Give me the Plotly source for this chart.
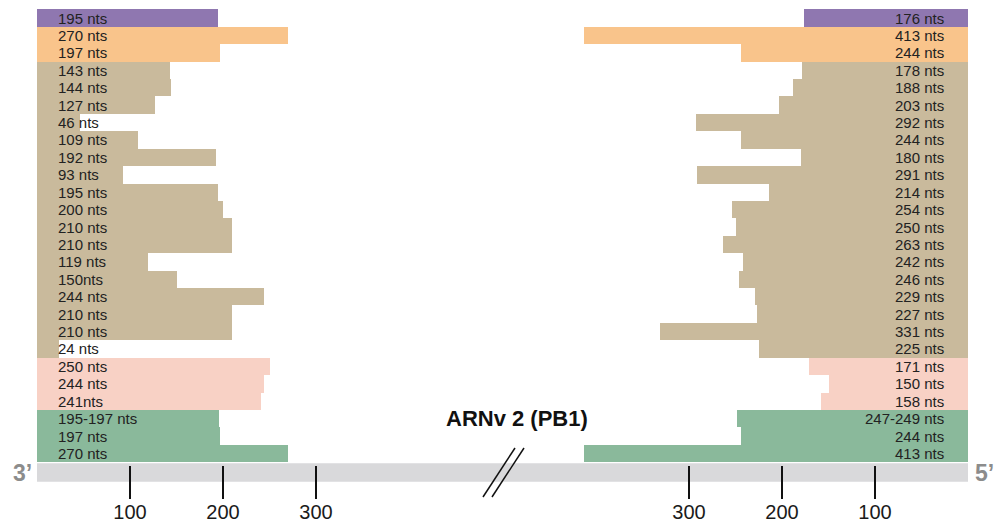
import plotly.graph_objects as go

# Segment lengths (nts) read at the 3' end (left) and the 5' end (right), top row first
left_labels = ["195 nts", "270 nts", "197 nts", "143 nts", "144 nts", "127 nts", "46 nts",
               "109 nts", "192 nts", "93 nts", "195 nts", "200 nts", "210 nts", "210 nts",
               "119 nts", "150nts", "244 nts", "210 nts", "210 nts", "24 nts", "250 nts",
               "244 nts", "241nts", "195-197 nts", "197 nts", "270 nts"]
left_lengths = [195, 270, 197, 143, 144, 127, 46, 109, 192, 93, 195, 200, 210, 210,
                119, 150, 244, 210, 210, 24, 250, 244, 241, 196, 197, 270]

right_labels = ["176 nts", "413 nts", "244 nts", "178 nts", "188 nts", "203 nts", "292 nts",
                "244 nts", "180 nts", "291 nts", "214 nts", "254 nts", "250 nts", "263 nts",
                "242 nts", "246 nts", "229 nts", "227 nts", "331 nts", "225 nts", "171 nts",
                "150 nts", "158 nts", "247-249 nts", "244 nts", "413 nts"]
right_lengths = [176, 413, 244, 178, 188, 203, 292, 244, 180, 291, 214, 254, 250, 263,
                 242, 246, 229, 227, 331, 225, 171, 150, 158, 248, 244, 413]

groups = ["purple"] + ["orange"] * 2 + ["tan"] * 17 + ["pink"] * 3 + ["green"] * 3
group_colors = {"purple": "#8f77b0", "orange": "#f9c48b", "tan": "#c9ba9c",
                "pink": "#f8d1c5", "green": "#8ab99b"}

tick_values = [100, 200, 300]
title_text = "ARNv 2 (PB1)"

# Page geometry (pixels)
W, H = 995, 525
x_start, x_split, x_end = 37, 503, 968
px_per_nt = 0.93
row_top, row_h = 9.3, 17.42
axis_y = 465
bar_top, bar_bot = 463.3, 481.7

rows = list(range(len(groups)))
colors = [group_colors[g] for g in groups]
FONT = "Liberation Sans, Arial, sans-serif"

fig = go.Figure()
fig.add_trace(go.Bar(y=rows, x=left_lengths, base=0, orientation="h",
                     marker=dict(color=colors, line=dict(width=0)), width=1.0,
                     xaxis="x", yaxis="y", hoverinfo="skip"))
fig.add_trace(go.Bar(y=rows, x=right_lengths, base=0, orientation="h",
                     marker=dict(color=colors, line=dict(width=0)), width=1.0,
                     xaxis="x2", yaxis="y", hoverinfo="skip"))

annotations = []
for i, (lt, rt) in enumerate(zip(left_labels, right_labels)):
    annotations.append(dict(text=lt, x=56 / W, xref="paper", xanchor="left",
                            y=i, yref="y", yanchor="middle", showarrow=False,
                            font=dict(family=FONT, size=15, color="#222222")))
    annotations.append(dict(text=rt, x=946 / W, xref="paper", xanchor="right",
                            y=i, yref="y", yanchor="middle", showarrow=False,
                            font=dict(family=FONT, size=15, color="#222222")))

annotations.append(dict(text=f"<b>{title_text}</b>", x=517 / W, xref="paper", xanchor="center",
                        y=1 - 418 / H, yref="paper", yanchor="middle", showarrow=False,
                        font=dict(family=FONT, size=22, color="#111111")))
annotations.append(dict(text="<b>3’</b>", x=22 / W, xref="paper", xanchor="center",
                        y=1 - 473 / H, yref="paper", yanchor="middle", showarrow=False,
                        font=dict(family=FONT, size=23, color="#8c8c8c")))
annotations.append(dict(text="<b>5’</b>", x=984 / W, xref="paper", xanchor="center",
                        y=1 - 473 / H, yref="paper", yanchor="middle", showarrow=False,
                        font=dict(family=FONT, size=23, color="#8c8c8c")))

shapes = [
    # genome strip
    dict(type="rect", xref="paper", yref="paper", layer="below",
         x0=x_start / W, x1=x_end / W, y0=1 - bar_bot / H, y1=1 - bar_top / H,
         fillcolor="#d9d9db", line=dict(width=0)),
    # axis break marks
    dict(type="line", xref="paper", yref="paper", x0=483 / W, y0=1 - 497 / H,
         x1=515 / W, y1=1 - 448 / H, line=dict(color="#111111", width=1.5)),
    dict(type="line", xref="paper", yref="paper", x0=492 / W, y0=1 - 497 / H,
         x1=524 / W, y1=1 - 448 / H, line=dict(color="#111111", width=1.5)),
]

axis_common = dict(tickmode="array", tickvals=tick_values,
                   ticks="outside", ticklen=33, tickwidth=2, tickcolor="#111111",
                   ticklabelstandoff=-4,
                   showgrid=False, zeroline=False, showline=False,
                   anchor="free", position=1 - axis_y / H,
                   tickfont=dict(family=FONT, size=20, color="#1a1a1a"), fixedrange=True)

fig.update_layout(
    width=W, height=H,
    margin=dict(l=0, r=0, t=0, b=0),
    paper_bgcolor="white", plot_bgcolor="rgba(0,0,0,0)",
    showlegend=False, bargap=0,
    xaxis=dict(domain=[x_start / W, x_split / W],
               range=[0, (x_split - x_start) / px_per_nt], **axis_common),
    xaxis2=dict(domain=[x_split / W, x_end / W],
                range=[(x_end - x_split) / px_per_nt, 0], **axis_common),
    yaxis=dict(domain=[0, 1],
               range=[(H - row_top) / row_h - 0.5, (0 - row_top) / row_h - 0.5],
               visible=False, fixedrange=True),
    annotations=annotations,
    shapes=shapes,
)

fig.write_html("out.html")
